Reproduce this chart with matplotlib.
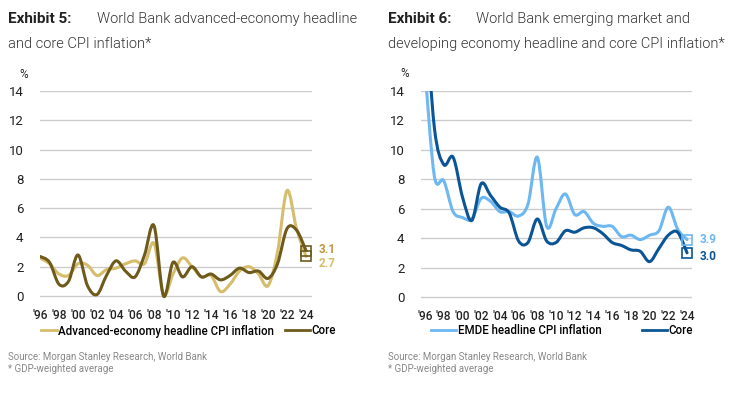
import numpy as np
import matplotlib.pyplot as plt
from matplotlib.path import Path
from matplotlib.patches import PathPatch
from matplotlib.lines import Line2D

plt.rcParams['font.family'] = ['Roboto', 'DejaVu Sans']

years = list(range(1996, 2025))
tick_years = list(range(1996, 2025, 2))
tick_labels = ["'" + str(y)[2:] for y in tick_years]

# Exhibit 5 - advanced economies
adv_headline = [2.6, 2.2, 1.5, 1.4, 2.2, 2.1, 1.4, 1.8, 1.9, 2.2, 2.4, 2.2, 3.6, 0.1,
                1.5, 2.6, 2.0, 1.3, 1.4, 0.3, 0.8, 1.7, 2.0, 1.5, 0.7, 3.0, 7.2, 4.6, 2.7]
adv_core = [2.7, 2.3, 0.8, 1.0, 2.8, 0.7, 0.1, 1.4, 2.4, 1.7, 1.3, 2.8, 4.8, 0.0,
            2.3, 1.3, 2.0, 1.3, 1.5, 1.1, 1.4, 1.9, 1.6, 1.7, 1.2, 2.2, 4.6, 4.5, 3.1]

# Exhibit 6 - EMDE
emde_headline = [15.4, 8.2, 7.9, 5.8, 5.4, 5.3, 6.7, 6.5, 5.8, 5.8, 5.5, 6.3, 9.5, 4.8,
                 6.0, 7.0, 5.6, 5.8, 5.0, 4.8, 4.8, 4.1, 4.2, 3.9, 4.2, 4.5, 6.1, 4.6, 3.9]
emde_core = [20.0, 11.5, 9.0, 9.5, 6.8, 5.2, 7.7, 6.9, 6.1, 5.7, 3.8, 3.7, 5.3, 3.8,
             3.7, 4.5, 4.4, 4.7, 4.7, 4.3, 3.7, 3.5, 3.2, 3.1, 2.4, 3.3, 4.2, 4.4, 3.0]

GOLD_LIGHT = '#D5BD6C'
GOLD_DARK = '#6E5B1C'
BLUE_LIGHT = '#6DB8F2'
BLUE_DARK = '#0B5596'
TXT = '#222222'

fig = plt.figure(figsize=(7.4, 3.96), dpi=100)
W, H = 740, 396


def smooth_line(ax, x, y, color, lw=2.2):
    # excel-style smoothed line: bezier through the points
    x = np.asarray(x, float)
    y = np.asarray(y, float)
    n = len(x)
    verts = [(x[0], y[0])]
    codes = [Path.MOVETO]
    for i in range(n - 1):
        i0 = max(i - 1, 0)
        i3 = min(i + 2, n - 1)
        c1 = (x[i] + (x[i + 1] - x[i0]) / 6, y[i] + (y[i + 1] - y[i0]) / 6)
        c2 = (x[i + 1] - (x[i3] - x[i]) / 6, y[i + 1] - (y[i3] - y[i]) / 6)
        verts += [c1, c2, (x[i + 1], y[i + 1])]
        codes += [Path.CURVE4] * 3
    patch = PathPatch(Path(verts, codes), fill=False, edgecolor=color, lw=lw,
                      capstyle='round', joinstyle='round', zorder=3)
    ax.add_patch(patch)


def setup(ax, xlim):
    ax.set_xlim(*xlim)
    ax.set_ylim(-0.5, 14)
    ax.set_yticks(range(0, 15, 2))
    ax.set_xticks(tick_years)
    ax.set_xticklabels(tick_labels)
    ax.tick_params(axis='both', length=0, colors=TXT)
    ax.tick_params(axis='y', pad=12, labelsize=9.5)
    ax.tick_params(axis='x', pad=4, labelsize=8.6)
    for lab in ax.get_xticklabels():
        lab.set_fontweight(500)
    for s in ax.spines.values():
        s.set_visible(False)
    ax.grid(axis='y', color='#cccccc', lw=1)
    ax.set_axisbelow(True)
    ax.text(-0.06, 1.08, '%', transform=ax.transAxes, fontsize=8.5, color=TXT,
            ha='center', va='center')


def axes_px(left, right, top, bottom):
    return fig.add_axes([left / W, 1 - bottom / H, (right - left) / W, (bottom - top) / H])


def end_label(ax, val, color, dy):
    ax.annotate(f'{val:.1f}', (years[-1], val), xytext=(9, dy), textcoords='offset points',
                color=color, fontsize=8.5, fontweight='bold', va='center')


def end_box(ax, val, color):
    ax.plot([years[-1]], [val], 's', ms=6.5, mfc='none', mec=color, mew=1.2, zorder=4, clip_on=False)


ax1 = axes_px(40, 312, 91, 303.3)
setup(ax1, (1996, 2024.63))
smooth_line(ax1, years, adv_headline, GOLD_LIGHT)
smooth_line(ax1, years, adv_core, GOLD_DARK)
end_box(ax1, adv_core[-1], GOLD_DARK)
end_box(ax1, adv_headline[-1], GOLD_DARK)
end_label(ax1, adv_core[-1], '#B99A3E', 1)
end_label(ax1, adv_headline[-1], GOLD_LIGHT, -5)

ax2 = axes_px(421, 692, 91, 304.3)
setup(ax2, (1995.57, 2024.53))
smooth_line(ax2, years, emde_headline, BLUE_LIGHT)
smooth_line(ax2, years, emde_core, BLUE_DARK)
end_box(ax2, emde_headline[-1], BLUE_LIGHT)
end_box(ax2, emde_core[-1], BLUE_DARK)
end_label(ax2, emde_headline[-1], BLUE_LIGHT, 0)
end_label(ax2, emde_core[-1], BLUE_DARK, -3)


# titles
def title(x, x2, lines, num):
    fig.text(x / W, 1 - 19 / H, f'Exhibit {num}:', fontsize=11, fontweight='bold', color='#222222', va='center')
    fig.text(x2 / W, 1 - 19 / H, lines[0], fontsize=10.5, fontweight=300, color='#333333', va='center')
    fig.text(x / W, 1 - 44 / H, lines[1], fontsize=10.5, fontweight=300, color='#333333', va='center')


title(8, 97, ['World Bank advanced-economy headline', 'and core CPI inflation*'], 5)
title(388, 476, ['World Bank emerging market and', 'developing economy headline and core CPI inflation*'], 6)


# legends
def legend_entry(x, label, color, hl):
    h = Line2D([], [], color=color, lw=2)
    fig.legend([h], [label], loc='center left', bbox_to_anchor=(x / W, 1 - 331 / H), frameon=False,
               prop={'size': 8.3, 'weight': 500}, handlelength=hl, handletextpad=0.1,
               borderpad=0, borderaxespad=0)


legend_entry(41, 'Advanced-economy headline CPI inflation', GOLD_LIGHT, 1.4)
legend_entry(285, 'Core', GOLD_DARK, 2.2)
legend_entry(431, 'EMDE headline CPI inflation', BLUE_LIGHT, 2.2)
legend_entry(642, 'Core', BLUE_DARK, 2.2)

for x in (8, 388):
    fig.text(x / W, 1 - 357 / H, 'Source: Morgan Stanley Research, World Bank', fontsize=7, color='#888888', va='center')
    fig.text(x / W, 1 - 369 / H, '* GDP-weighted average', fontsize=7, color='#888888', va='center')

fig.savefig('out.png', dpi=100)
